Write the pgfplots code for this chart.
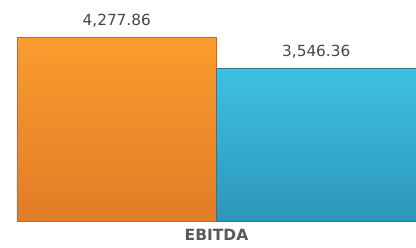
\documentclass[border=0pt]{standalone}
\usepackage{pgfplots}
\pgfplotsset{compat=1.18}
\usepackage{fontspec}
\setmainfont{DejaVu Sans}
\definecolor{orTop}{RGB}{250,156,46}
\definecolor{orBot}{RGB}{226,124,38}
\definecolor{orEdge}{RGB}{175,110,60}
\definecolor{blTop}{RGB}{62,192,226}
\definecolor{blBot}{RGB}{44,150,186}
\definecolor{blEdge}{RGB}{45,120,140}
\definecolor{txt}{RGB}{70,70,70}
\definecolor{lbl}{RGB}{89,89,89}
\begin{document}
\begin{tikzpicture}[x=1pt,y=1pt]
\useasboundingbox (0,0) rectangle (416,248);
\begin{axis}[
  at={(17pt,27pt)}, anchor=south west,
  scale only axis, width=399pt, height=215pt,
  xmin=0, xmax=2, ymin=0, ymax=5000,
  axis y line=none,
  axis x line*=bottom,
  x axis line style={draw=none},
  xtick={1}, xticklabels={EBITDA},
  major tick length=0pt,
  xticklabel style={font=\bfseries\fontsize{15.5}{17}\selectfont, text=lbl, inner sep=0pt, anchor=base, yshift=-20pt},
  ytick=\empty,
  point meta=explicit symbolic,
  nodes near coords,
  every node near coord/.append style={font=\fontsize{15.3}{17}\selectfont, text=txt, inner sep=0pt, anchor=base, yshift=12pt},
  clip=false,
]
\addplot[ybar, bar width=1, bar shift=0pt, top color=orTop, bottom color=orBot, draw=orEdge, line width=0.8pt]
  coordinates {(0.5,4277.86) [4,277.86]};
\addplot[ybar, bar width=1, bar shift=0pt, top color=blTop, bottom color=blBot, draw=blEdge, line width=0.8pt]
  coordinates {(1.5,3546.36) [3,546.36]};
\end{axis}
\end{tikzpicture}
\end{document}
